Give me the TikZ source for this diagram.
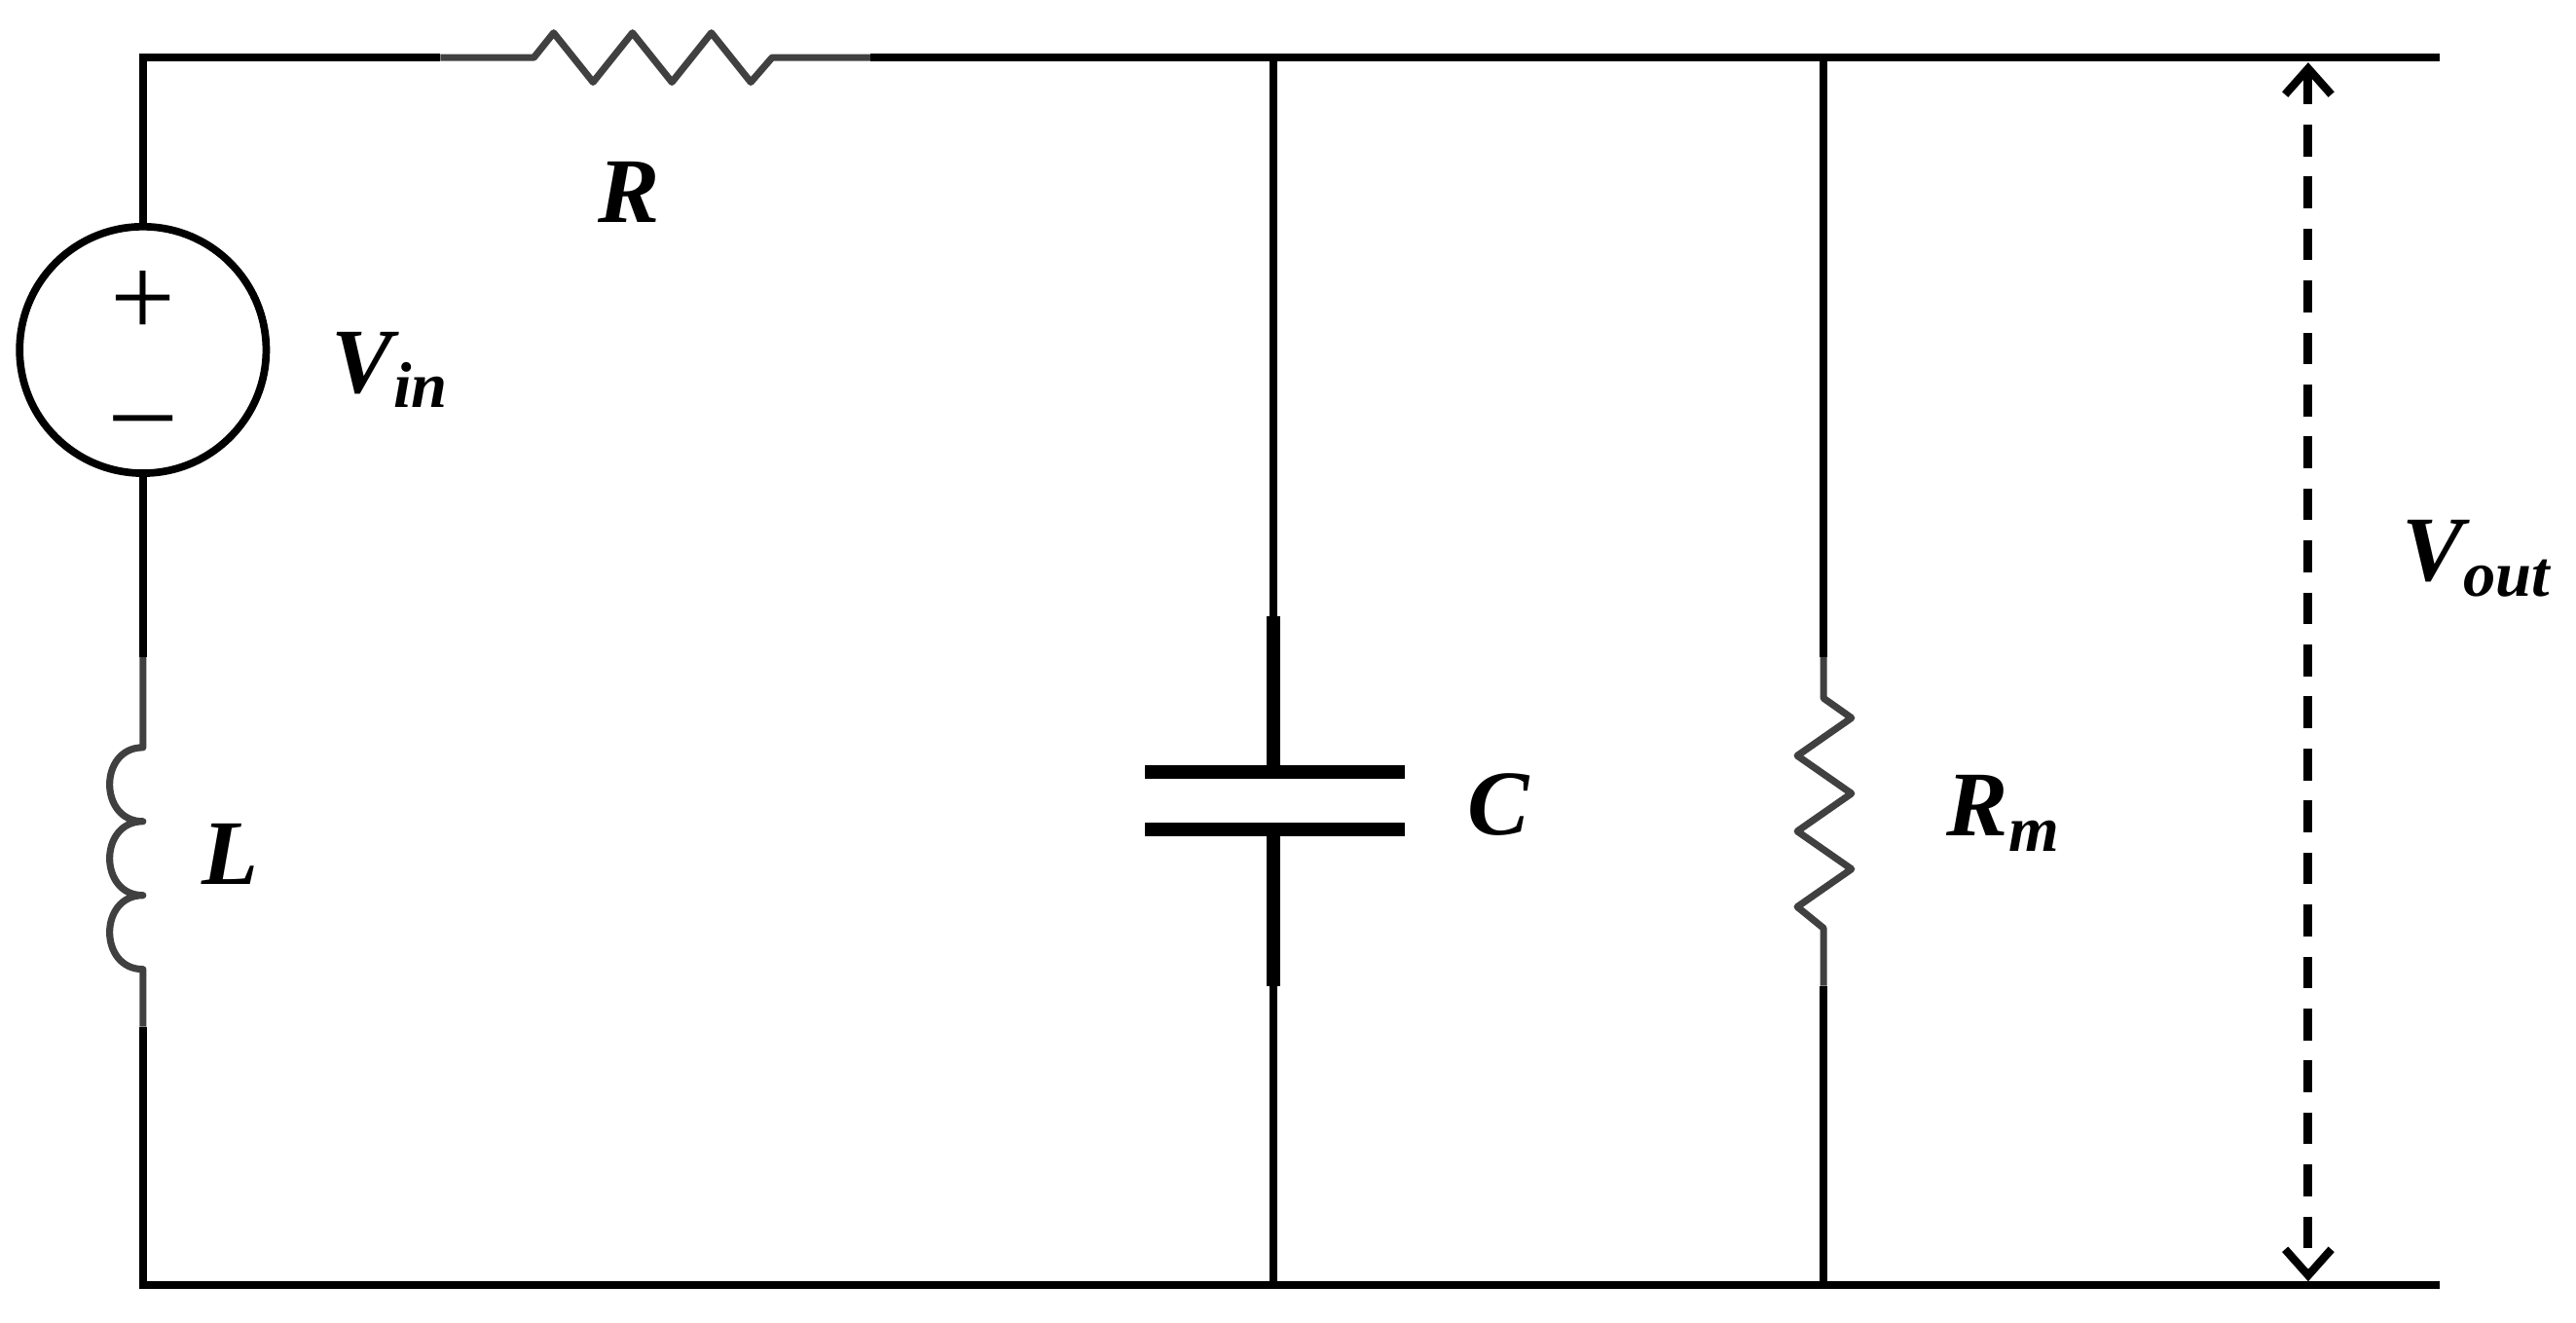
\documentclass[tikz,border=0pt]{standalone}
\usepackage{fontspec}
\setmainfont{Liberation Serif}
\usetikzlibrary{arrows.meta}
\begin{document}
\begin{tikzpicture}[x=0.01cm,y=-0.01cm,
  wire/.style={line width=1.3pt,black},
  comp/.style={line width=1.2pt,color=black!75,line join=round},
  vtip/.tip={Straight Barb[length=4.5pt,width=8pt,line width=1.4pt]},
  lbl/.style={font=\fontsize{16}{19}\selectfont\bfseries\itshape}]
\useasboundingbox (0,0) rectangle (1568,805);
\coordinate (tl) at (87,35); \coordinate (bl) at (87,782);
\coordinate (tr) at (1485,35); \coordinate (br) at (1485,782);
\node[circle,draw,line width=1.3pt,minimum size=1.5cm,inner sep=0] (src) at (87,213) {};
\node at (87,185) {\fontsize{20}{20}\selectfont +};
\node at (87,262) {\fontsize{20}{20}\selectfont --};
% top wire and resistor R
\draw[wire] (src.north) -- (tl) -- (268,35);
\draw[comp] (268,35) -- (325,35) -- (337,20) -- (361,50) -- (385,20) -- (409,50) -- (433,20) -- (457,50) -- (470,35) -- (530,35);
\draw[wire] (530,35) -- (tr);
% left branch
\draw[wire] (src.south) -- (87,400);
\draw[comp] (87,400) -- (87,455)
  .. controls (60,455) and (60,500) .. (87,500)
  .. controls (60,500) and (60,545) .. (87,545)
  .. controls (60,545) and (60,590) .. (87,590) -- (87,625);
\draw[wire] (87,625) -- (bl) -- (br);
% capacitor
\draw[wire] (775,35) -- (775,375);
\draw[line width=2.4pt] (775,375) -- (775,470) (775,505) -- (775,600);
\draw[line width=2.4pt] (697,470) -- (855,470) (697,505) -- (855,505);
\draw[wire] (775,600) -- (775,782);
% Rm
\draw[wire] (1110,35) -- (1110,400);
\draw[comp] (1110,400) -- (1110,425) -- (1127,437) -- (1094,460) -- (1127,483) -- (1094,506) -- (1127,529) -- (1094,552) -- (1110,565) -- (1110,600);
\draw[wire] (1110,600) -- (1110,782);
% Vout arrow
\coordinate (a1) at (1405,38); \coordinate (a2) at (1405,780);
\draw[line width=1.5pt,dash pattern=on 5.5pt off 3.5pt,vtip-vtip] (a1) -- (a2);
% labels
\node[lbl] (lR) at (383,117) {R};
\node[lbl] (lV) at (238,225) {V\textsubscript{in}};
\node[lbl] (lL) at (140,520) {L};
\node[lbl] (lC) at (912,490) {C};
\node[lbl] (lRm) at (1220,495) {R\textsubscript{m}};
\node[lbl] (lVo) at (1508,340) {V\textsubscript{out}};
\end{tikzpicture}
\end{document}
